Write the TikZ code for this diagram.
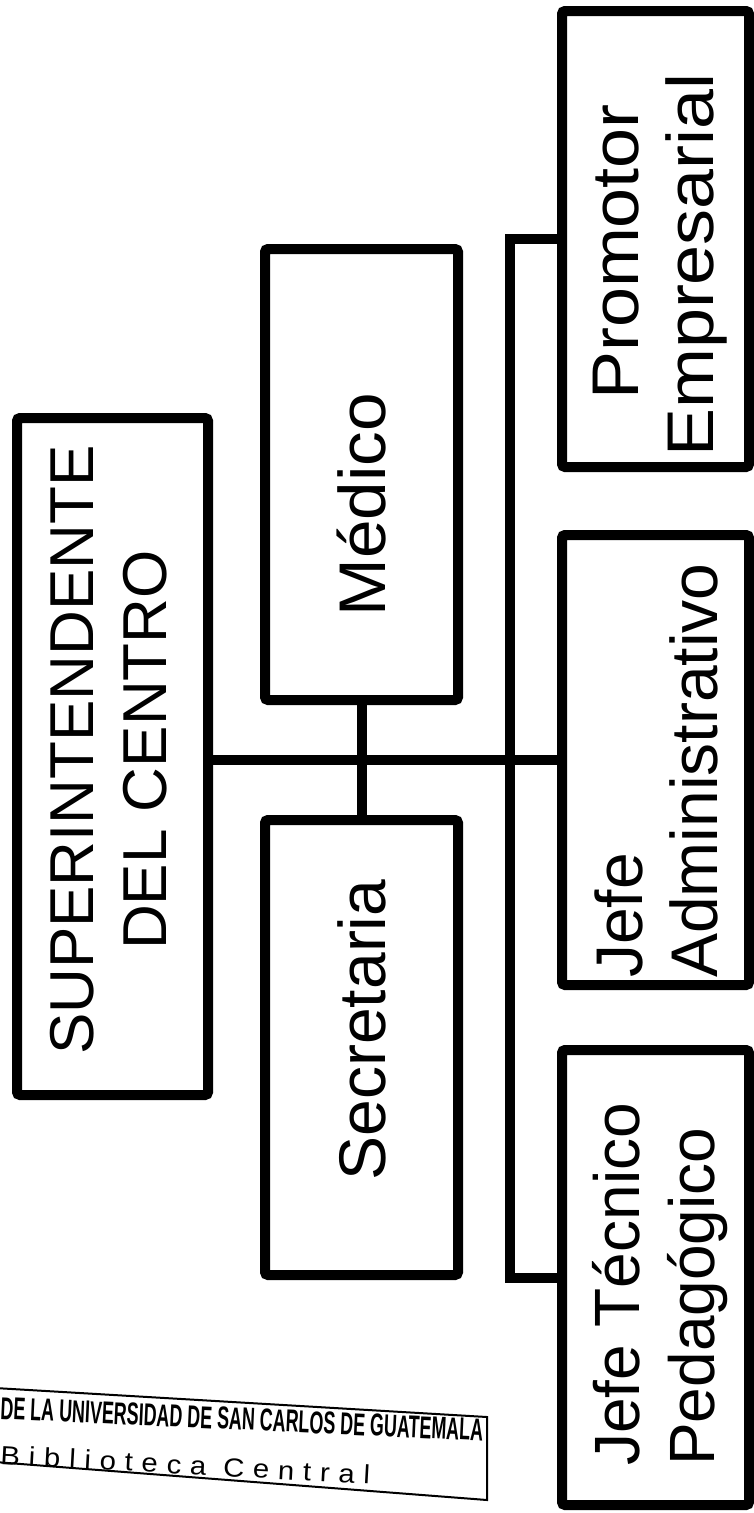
\documentclass[tikz,border=0pt]{standalone}
\usepackage{fontspec}
\setmainfont{Liberation Sans}
\newfontfamily\stampfont[LetterSpace=30]{Liberation Sans}
\usepackage{graphicx}
\newcommand{\wide}[2]{\scalebox{#1}[1]{#2}}
\begin{document}
\begin{tikzpicture}[x=1pt,y=-1pt,
  box/.style={draw, line width=10pt, rounded corners=3pt, inner sep=0pt},
  wire/.style={line width=10pt},
  lbl/.style={rotate=90, inner sep=0pt, font=\fontsize{66}{75}\selectfont}]
\useasboundingbox (0,0) rectangle (754,1513);
% boxes
\node[box, minimum width=191pt, minimum height=677pt] (sup) at (112.5,756.5) {};
\node[box, minimum width=193pt, minimum height=451pt] (med) at (361.5,474.5) {};
\node[box, minimum width=193pt, minimum height=455pt] (sec) at (361.5,1047.5) {};
\node[box, minimum width=187pt, minimum height=456pt] (prom) at (655.5,239) {};
\node[box, minimum width=187pt, minimum height=450pt] (ja) at (655.5,760) {};
\node[box, minimum width=187pt, minimum height=455pt] (jt) at (655.5,1277.5) {};
% labels
\node[lbl, align=center, font=\fontsize{62}{73}\selectfont] (supT) at (109,750) {SUPERINTENDENTE\\DEL CENTRO};
\node[lbl, anchor=base] (medT) at (385,505) {\wide{1.05}{Médico}};
\node[lbl, anchor=base] (secT) at (385,1030) {Secretaria};
\node[lbl, align=center] (promT) at (660,265) {\hspace*{26pt}\wide{1.09}{Promotor}\\\wide{1.09}{Empresarial}};
\node[lbl, align=left, anchor=west] (jaT) at (656,978) {Jefe\\Administrativo};
\node[lbl, align=left, anchor=west, font=\fontsize{64}{75}\selectfont] (jtT) at (660,1466) {Jefe Técnico\\Pedagógico};
% connectors
\coordinate (bus) at (510,0);
\draw[wire] (sup.east |- ja.west) -- (ja.west);
\draw[wire] (med.south) -- (sec.north);
\draw[wire] (prom.west) -- (prom.west -| bus) -- (jt.west -| bus) -- (jt.west);
% library stamp
\draw[line width=2pt] (-5,1388) -- (487,1417) -- (487,1500) -- (-5,1462);
\node[anchor=base west, rotate=-2.6, inner sep=0pt] (stamp1) at (0,1419)
  {\resizebox{483pt}{22pt}{\bfseries DE LA UNIVERSIDAD DE SAN CARLOS DE GUATEMALA}};
\node[anchor=base west, rotate=-3.1, inner sep=0pt] (stamp2) at (0,1464)
  {\resizebox{370pt}{19pt}{\stampfont Biblioteca Central}};
\end{tikzpicture}
\end{document}
